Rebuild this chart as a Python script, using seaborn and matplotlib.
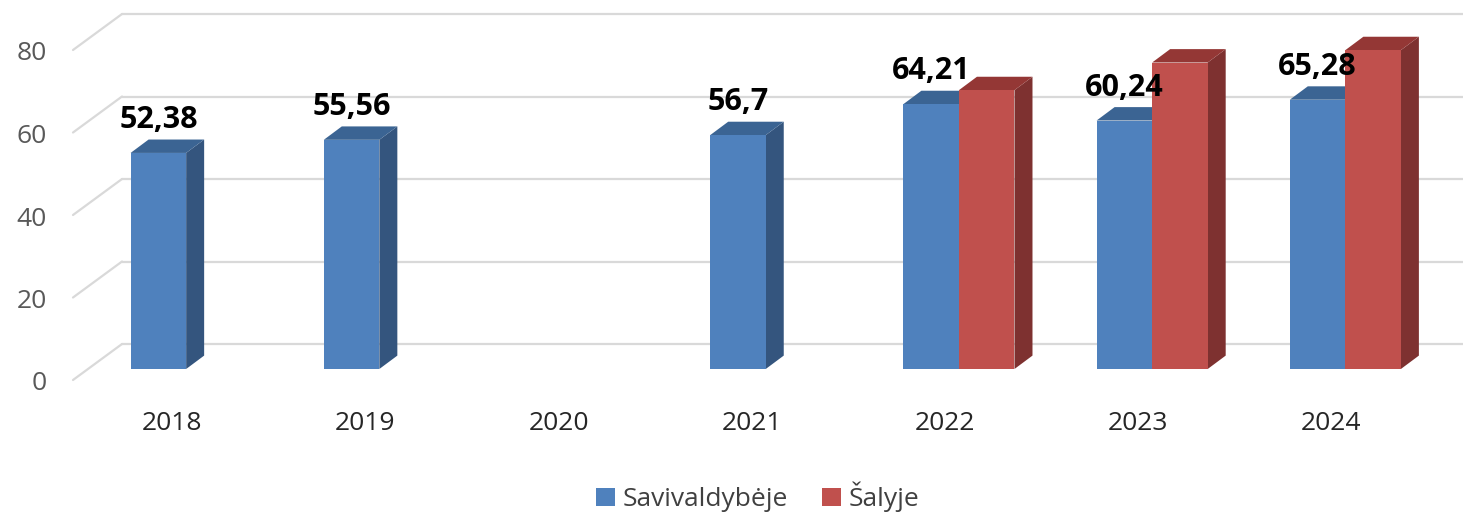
import numpy as np
import pandas as pd
import matplotlib
matplotlib.use("Agg")
import matplotlib.pyplot as plt
from matplotlib.patches import Polygon, Patch
from matplotlib.transforms import offset_copy
import seaborn as sns

# --- data -------------------------------------------------------------
years = ["2018", "2019", "2020", "2021", "2022", "2023", "2024"]
savivaldybeje = [52.38, 55.56, np.nan, 56.7, 64.21, 60.24, 65.28]
salyje = [np.nan, np.nan, np.nan, np.nan, 67.6, 74.3, 77.3]
series = ["Savivaldybėje", "Šalyje"]
yticks = [0, 20, 40, 60, 80]

df = pd.DataFrame({
    "Metai": years * 2,
    "Rodiklis": [series[0]] * len(years) + [series[1]] * len(years),
    "Reikšmė": savivaldybeje + salyje,
}).dropna()

# --- style ------------------------------------------------------------
front_colors = ["#4F81BD", "#C0504D"]
side_colors = ["#34557E", "#7E3130"]
top_colors = ["#3B6493", "#943735"]
grid_color = "#D9D9D9"

sns.set_theme(style="white")
plt.rcParams["font.family"] = ["Open Sans", "DejaVu Sans"]

W, H = 1463, 512
fig = plt.figure(figsize=(W / 100, H / 100), dpi=100)
ax = fig.add_axes([88 / W, 143 / H, (1429 - 88) / W, 330 / H])

sns.barplot(
    data=df, x="Metai", y="Reikšmė", hue="Rodiklis",
    order=years, hue_order=series, palette=front_colors,
    width=0.575, saturation=1, errorbar=None, linewidth=0,
    legend=False, ax=ax, zorder=3,
)

ax.set_xlim(-0.508, 6.433)
ax.set_ylim(0, 80)
for s in ax.spines.values():
    s.set_visible(False)
ax.set_xticks([])
ax.set_yticks([])
ax.set_xlabel("")
ax.set_ylabel("")

# pixel -> data scale factors
p0 = ax.transData.transform((0, 0))
p1 = ax.transData.transform((1, 1))
sx, sy = p1[0] - p0[0], p1[1] - p0[1]

# pseudo-3D depth offsets (pixels)
bar_dx, bar_dy = 18, 13.4
wall_dx, wall_dy = 34, 25
floor_dx, floor_dy = -15, -11

xl, xr = ax.get_xlim()

# back-wall gridlines with the slanted side-wall segment
for v in yticks:
    ax.plot([xl + wall_dx / sx, xr + wall_dx / sx], [v + wall_dy / sy] * 2,
            color=grid_color, lw=1.6, zorder=0, clip_on=False)
    ax.plot([xl + floor_dx / sx, xl + wall_dx / sx],
            [v + floor_dy / sy, v + wall_dy / sy],
            color=grid_color, lw=1.6, zorder=0, clip_on=False)

# side and top faces of each bar
def series_index(color):
    rgb = np.array(color[:3])
    d = [np.sum((rgb - np.array(matplotlib.colors.to_rgb(c))) ** 2) for c in front_colors]
    return int(np.argmin(d))

dx, dy = bar_dx / sx, bar_dy / sy
for bar in ax.patches:
    h = bar.get_height()
    if not np.isfinite(h) or h == 0:
        continue
    x0 = bar.get_x()
    x1 = x0 + bar.get_width()
    k = series_index(bar.get_facecolor())
    ax.add_patch(Polygon([(x1, 0), (x1 + dx, dy), (x1 + dx, h + dy), (x1, h)],
                         closed=True, facecolor=side_colors[k], lw=0,
                         zorder=2, clip_on=False))
    ax.add_patch(Polygon([(x0, h), (x1, h), (x1 + dx, h + dy), (x0 + dx, h + dy)],
                         closed=True, facecolor=top_colors[k], lw=0,
                         zorder=2, clip_on=False))
    if k == 0:
        label = f"{h:g}".replace(".", ",")
        ax.text(x0 + bar.get_width() / 2, h, label,
                transform=offset_copy(ax.transData, fig, x=0, y=25, units="dots"),
                ha="center", va="baseline", fontsize=22, fontweight="bold",
                color="black", zorder=5, clip_on=False)

# value axis labels on the front edge of the floor
ytr = offset_copy(ax.transData, fig, x=floor_dx - 26, y=floor_dy - 4, units="dots")
for v in yticks:
    ax.text(xl, v, str(v), transform=ytr, ha="right", va="center",
            fontsize=19, color="#595959", clip_on=False)

# category labels
xtr = offset_copy(ax.transData, fig, x=-14, y=-54, units="dots")
for i, yr in enumerate(years):
    ax.text(i, 0, yr, transform=xtr, ha="center", va="center",
            fontsize=19, color="#262626", clip_on=False)

handles = [Patch(facecolor=c, edgecolor="none", label=s)
           for c, s in zip(front_colors, series)]
fig.legend(handles=handles, loc="center", bbox_to_anchor=(758 / W, 15 / H),
           ncol=2, frameon=False, fontsize=19, handlelength=0.7,
           handleheight=0.7, handletextpad=0.3, columnspacing=1.3,
           labelcolor="#404040")

fig.savefig("out.png", dpi=100)
